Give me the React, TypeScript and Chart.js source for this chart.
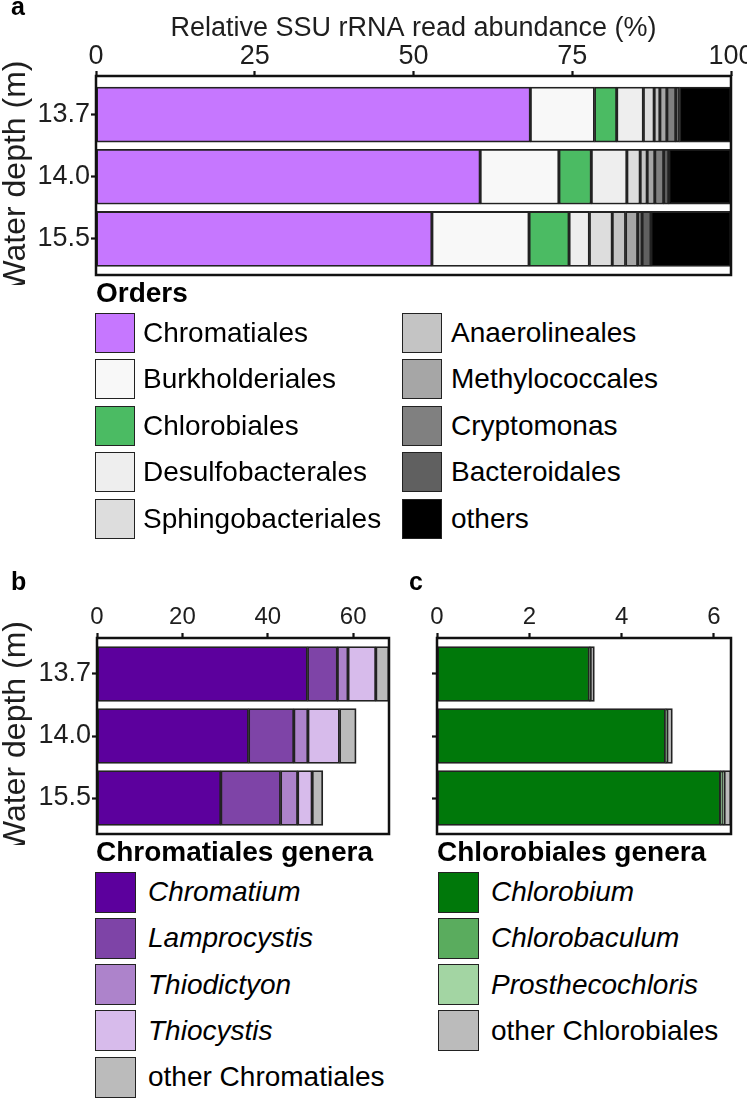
import React, { useEffect, useRef } from "react";
import { Chart, registerables } from "chart.js";

Chart.register(...registerables);

const FONT = "'Liberation Sans', Arial, Helvetica, sans-serif";
const TEXT = "#1e1e1e";

// ---------- data ----------
const depthLabels = ["13.7", "14.0", "15.5"];

const abundanceTicks = [0, 25, 50, 75, 100];
const chromatialesTicks = [0, 20, 40, 60];
const chlorobialesTicks = [0, 2, 4, 6];

const orderNames = [
  "Chromatiales",
  "Burkholderiales",
  "Chlorobiales",
  "Desulfobacterales",
  "Sphingobacteriales",
  "Anaerolineales",
  "Methylococcales",
  "Cryptomonas",
  "Bacteroidales",
  "others",
];
const orderColors = [
  "#C677FF",
  "#F8F8F8",
  "#4BBB63",
  "#EEEEEE",
  "#DDDDDD",
  "#C4C4C4",
  "#A6A6A6",
  "#808080",
  "#606060",
  "#000000",
];
const chromatialesPct = [68.4, 60.5, 52.9];
const burkholderialesPct = [10.1, 12.4, 15.3];
const chlorobialesPct = [3.5, 5.1, 6.3];
const desulfobacteralesPct = [4.2, 5.6, 3.2];
const sphingobacterialesPct = [1.7, 2.1, 3.6];
const anaerolinealesPct = [0.9, 1.1, 2.1];
const methylococcalesPct = [1.1, 1.2, 1.9];
const cryptomonasPct = [1.4, 1.4, 0.7];
const bacteroidalesPct = [0.6, 0.8, 1.4];
const othersPct = [8.1, 9.8, 12.6];

const chromGeneraNames = ["Chromatium", "Lamprocystis", "Thiodictyon", "Thiocystis", "other Chromatiales"];
const chromGeneraItalic = [true, true, true, true, false];
const chromGeneraColors = ["#5C009D", "#7E44A7", "#AD83CB", "#D7BBEB", "#BBBBBB"];
const chromatiumPct = [49.3, 35.5, 29.0];
const lamprocystisPct = [7.0, 10.6, 14.0];
const thiodictyonPct = [2.5, 3.3, 4.0];
const thiocystisPct = [6.5, 7.4, 3.4];
const otherChromatialesPct = [3.1, 3.9, 2.5];

const chlorGeneraNames = ["Chlorobium", "Chlorobaculum", "Prosthecochloris", "other Chlorobiales"];
const chlorGeneraItalic = [true, true, true, false];
const chlorGeneraColors = ["#00780A", "#5AAC5E", "#A3D5A3", "#BBBBBB"];
const chlorobiumPct = [3.3, 4.95, 6.14];
const chlorobaculumPct = [0.02, 0.03, 0.06];
const prosthecochlorisPct = [0.0, 0.0, 0.02];
const otherChlorobialesPct = [0.09, 0.12, 0.15];

// ---------- chart helpers ----------
const framePlugin = {
  id: "frame",
  afterDatasetsDraw(chart: any) {
    const { ctx, chartArea } = chart;
    const { left, top, right, bottom } = chartArea;
    ctx.save();
    ctx.strokeStyle = "#111";
    ctx.lineWidth = 2.5;
    ctx.strokeRect(left, top, right - left, bottom - top);
    ctx.restore();
  },
};

type Spec = {
  names: string[];
  colors: string[];
  series: number[][];
  xTicks: number[];
  xMax: number;
  xTitle?: string;
  yTitle?: string;
  showYLabels: boolean;
  xTickSize: number;
  xTickPadding: number;
  xAxisHeight: number;
  yAxisWidth: number;
  padding: { left: number; right: number; top: number; bottom: number };
  yMin: number;
  yMax: number;
  barThickness: number;
};

function buildConfig(p: Spec): any {
  return {
    type: "bar",
    data: {
      datasets: p.series.map((vals, k) => ({
        label: p.names[k],
        data: vals.map((v, i) => ({ x: v, y: i })),
        backgroundColor: p.colors[k],
        borderColor: "#222",
        borderWidth: 1.8,
        borderSkipped: false,
        barThickness: p.barThickness,
      })),
    },
    options: {
      indexAxis: "y",
      responsive: false,
      animation: false,
      devicePixelRatio: 1,
      layout: { padding: p.padding },
      plugins: {
        legend: { display: false },
        tooltip: { enabled: false },
        title: { display: false },
      },
      scales: {
        x: {
          type: "linear",
          position: "top",
          stacked: true,
          min: 0,
          max: p.xMax,
          afterBuildTicks: (s: any) => {
            s.ticks = p.xTicks.map((v) => ({ value: v }));
          },
          afterFit: (s: any) => {
            s.height = p.xAxisHeight;
            s.paddingLeft = 0;
            s.paddingRight = 0;
          },
          ticks: {
            font: { family: FONT, size: p.xTickSize },
            color: TEXT,
            padding: p.xTickPadding,
            maxRotation: 0,
            autoSkip: false,
          },
          grid: {
            display: true,
            drawOnChartArea: false,
            drawTicks: true,
            tickLength: 5,
            tickWidth: 2.2,
            tickColor: "#111",
          },
          border: { display: false },
          title: p.xTitle
            ? {
                display: true,
                text: p.xTitle,
                font: { family: FONT, size: 27 },
                color: TEXT,
                padding: { top: 12, bottom: 0 },
              }
            : { display: false },
        },
        y: {
          type: "linear",
          position: "left",
          stacked: true,
          reverse: true,
          offset: false,
          bounds: "data",
          min: p.yMin,
          max: p.yMax,
          afterBuildTicks: (s: any) => {
            s.ticks = depthLabels.map((_, i) => ({ value: i }));
          },
          afterFit: (s: any) => {
            s.width = p.yAxisWidth;
            s.paddingTop = 0;
            s.paddingBottom = 0;
          },
          ticks: {
            callback: (v: any) => (p.showYLabels ? depthLabels[v] ?? "" : ""),
            font: { family: FONT, size: 27 },
            color: TEXT,
            padding: 1,
            autoSkip: false,
          },
          grid: {
            display: true,
            offset: false,
            drawOnChartArea: false,
            drawTicks: true,
            tickLength: 5,
            tickWidth: 2.2,
            tickColor: "#111",
          },
          border: { display: false },
          title: p.yTitle
            ? {
                display: true,
                text: p.yTitle,
                font: { family: FONT, size: 32, lineHeight: 1 },
                color: TEXT,
                padding: { top: 0, bottom: 0 },
              }
            : { display: false },
        },
      },
    },
    plugins: [framePlugin],
  };
}

function Panel(props: { spec: Spec; left: number; top: number; width: number; height: number }) {
  const ref = useRef<HTMLCanvasElement>(null);
  useEffect(() => {
    const chart = new Chart(ref.current as HTMLCanvasElement, buildConfig(props.spec));
    return () => chart.destroy();
  }, []);
  return (
    <canvas
      ref={ref}
      width={props.width}
      height={props.height}
      style={{ position: "absolute", left: props.left, top: props.top, width: props.width, height: props.height }}
    />
  );
}

function LegendItem(props: {
  left: number;
  top: number;
  size: number;
  gap: number;
  color: string;
  label: string;
  italic?: boolean;
}) {
  return (
    <div
      style={{
        position: "absolute",
        left: props.left,
        top: props.top,
        height: props.size,
        display: "flex",
        alignItems: "center",
        whiteSpace: "nowrap",
      }}
    >
      <div
        style={{
          width: props.size,
          height: props.size,
          boxSizing: "border-box",
          border: "1.5px solid #222",
          background: props.color,
          flex: "none",
        }}
      />
      <span
        style={{
          marginLeft: props.gap,
          fontSize: 28,
          lineHeight: "28px",
          fontStyle: props.italic ? "italic" : "normal",
          color: "#000",
        }}
      >
        {props.label}
      </span>
    </div>
  );
}

function Heading(props: { left: number; top: number; text: string; size?: number }) {
  const size = props.size ?? 28;
  return (
    <div
      style={{
        position: "absolute",
        left: props.left,
        top: props.top,
        fontSize: size,
        lineHeight: size + "px",
        fontWeight: "bold",
        color: "#000",
        whiteSpace: "nowrap",
      }}
    >
      {props.text}
    </div>
  );
}

const specA: Spec = {
  names: orderNames,
  colors: orderColors,
  series: [
    chromatialesPct,
    burkholderialesPct,
    chlorobialesPct,
    desulfobacteralesPct,
    sphingobacterialesPct,
    anaerolinealesPct,
    methylococcalesPct,
    cryptomonasPct,
    bacteroidalesPct,
    othersPct,
  ],
  xTicks: abundanceTicks,
  xMax: 100,
  xTitle: "Relative SSU rRNA read abundance (%)",
  yTitle: "Water depth (m)",
  showYLabels: true,
  xTickSize: 27,
  xTickPadding: -2,
  xAxisHeight: 76,
  yAxisWidth: 96,
  padding: { left: 0, right: 16, top: 0, bottom: 10 },
  yMin: -0.621,
  yMax: 2.58,
  barThickness: 55,
};

const specB: Spec = {
  names: chromGeneraNames,
  colors: chromGeneraColors,
  series: [chromatiumPct, lamprocystisPct, thiodictyonPct, thiocystisPct, otherChromatialesPct],
  xTicks: chromatialesTicks,
  xMax: 68.4,
  yTitle: "Water depth (m)",
  showYLabels: true,
  xTickSize: 24,
  xTickPadding: 1,
  xAxisHeight: 53,
  yAxisWidth: 97,
  padding: { left: 0, right: 11, top: 0, bottom: 11 },
  yMin: -0.58,
  yMax: 2.58,
  barThickness: 55,
};

const specC: Spec = {
  names: chlorGeneraNames,
  colors: chlorGeneraColors,
  series: [chlorobiumPct, chlorobaculumPct, prosthecochlorisPct, otherChlorobialesPct],
  xTicks: chlorobialesTicks,
  xMax: 6.37,
  showYLabels: false,
  xTickSize: 24,
  xTickPadding: 1,
  xAxisHeight: 53,
  yAxisWidth: 37,
  padding: { left: 0, right: 16, top: 0, bottom: 11 },
  yMin: -0.58,
  yMax: 2.58,
  barThickness: 55,
};

export default function App() {
  const step = 46.4;
  return (
    <div
      style={{
        position: "fixed",
        left: 0,
        top: 0,
        width: 747,
        height: 1099,
        background: "#fff",
        fontFamily: FONT,
        overflow: "hidden",
      }}
    >
      <Panel spec={specA} left={0} top={0} width={747} height={285} />
      <Panel spec={specB} left={0} top={585} width={400} height={260} />
      <Panel spec={specC} left={400} top={585} width={347} height={260} />

      <Heading left={11} top={-6} text="a" size={25} />
      <Heading left={11} top={569} text="b" size={25} />
      <Heading left={409} top={569} text="c" size={25} />

      <Heading left={96} top={279} text="Orders" />
      {orderNames.map((n, i) => (
        <LegendItem
          key={n}
          left={i < 5 ? 95 : 402}
          top={313 + (i % 5) * step}
          size={40}
          gap={i < 5 ? 8 : 9}
          color={orderColors[i]}
          label={n}
        />
      ))}

      <Heading left={96} top={838} text="Chromatiales genera" />
      {chromGeneraNames.map((n, i) => (
        <LegendItem
          key={n}
          left={95}
          top={871.5 + i * 46.3}
          size={41}
          gap={12}
          color={chromGeneraColors[i]}
          label={n}
          italic={chromGeneraItalic[i]}
        />
      ))}

      <Heading left={437} top={838} text="Chlorobiales genera" />
      {chlorGeneraNames.map((n, i) => (
        <LegendItem
          key={n}
          left={438}
          top={871.5 + i * 46.3}
          size={41}
          gap={12}
          color={chlorGeneraColors[i]}
          label={n}
          italic={chlorGeneraItalic[i]}
        />
      ))}
    </div>
  );
}
